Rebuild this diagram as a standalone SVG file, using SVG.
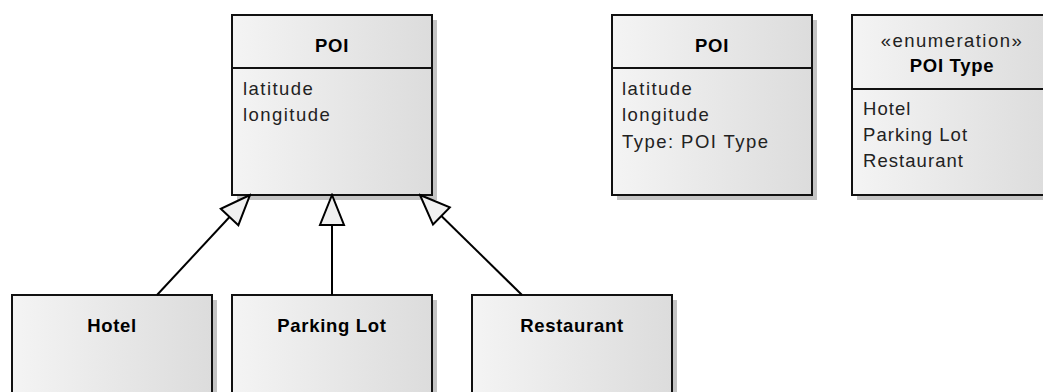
<svg xmlns="http://www.w3.org/2000/svg" width="1043" height="392" viewBox="0 0 1043 392">
  <defs>
    <linearGradient id="fillGrad" x1="0" y1="0" x2="1" y2="0">
      <stop offset="0" stop-color="#f4f4f4"/>
      <stop offset="1" stop-color="#dcdcdc"/>
    </linearGradient>
    <marker id="gen" markerUnits="userSpaceOnUse" markerWidth="34" markerHeight="30" viewBox="-32 -14 34 28" refX="0" refY="0" orient="auto">
      <path d="M0,0 L-30,-12 L-30,12 Z" fill="#f0f0f0" stroke="#000" stroke-width="2" stroke-linejoin="miter"/>
    </marker>
  </defs>
  <style>
    .shadow { fill: #c4c4c4; }
    .box { fill: url(#fillGrad); stroke: #111; stroke-width: 2; }
    .div { stroke: #111; stroke-width: 2; }
    .title { font-family: "Liberation Sans", Arial, sans-serif; font-size: 18.5px; font-weight: bold; fill: #000; text-anchor: middle; letter-spacing: 0.7px; }
    .attr { font-family: "Liberation Sans", Arial, sans-serif; font-size: 18.5px; fill: #222; letter-spacing: 1.45px; }
    .lit { font-family: "Liberation Sans", Arial, sans-serif; font-size: 18.5px; fill: #222; letter-spacing: 1.05px; }
    .stereo { font-family: "Liberation Sans", Arial, sans-serif; font-size: 18.5px; fill: #222; text-anchor: middle; letter-spacing: 1.45px; }
    .conn { stroke: #000; stroke-width: 2; fill: none; marker-end: url(#gen); }
  </style>

  <g id="poi-main">
    <rect class="shadow" x="237" y="20" width="200" height="180"/>
    <rect class="box" x="232" y="15" width="200" height="180"/>
    <line class="div" x1="232" y1="68" x2="432" y2="68"/>
    <text class="title" x="332" y="52">POI</text>
    <text class="attr" x="243" y="95">latitude</text>
    <text class="attr" x="243" y="121">longitude</text>
  </g>

  <g id="poi-typed">
    <rect class="shadow" x="617" y="20" width="200" height="180"/>
    <rect class="box" x="612" y="15" width="200" height="180"/>
    <line class="div" x1="612" y1="68" x2="812" y2="68"/>
    <text class="title" x="712" y="52">POI</text>
    <text class="attr" x="622" y="95">latitude</text>
    <text class="attr" x="622" y="121">longitude</text>
    <text class="attr" x="622" y="148">Type: POI Type</text>
  </g>

  <g id="poi-type-enum">
    <rect class="shadow" x="857" y="20" width="200" height="180"/>
    <rect class="box" x="852" y="15" width="200" height="180"/>
    <line class="div" x1="852" y1="89" x2="1052" y2="89"/>
    <text class="stereo" x="952" y="47">«enumeration»</text>
    <text class="title" x="952" y="72">POI Type</text>
    <text class="lit" x="863" y="115">Hotel</text>
    <text class="lit" x="863" y="141">Parking Lot</text>
    <text class="lit" x="863" y="167">Restaurant</text>
  </g>

  <g id="hotel">
    <rect class="shadow" x="17" y="300" width="200" height="110"/>
    <rect class="box" x="12" y="295" width="200" height="110"/>
    <text class="title" x="112" y="332">Hotel</text>
  </g>

  <g id="parking-lot">
    <rect class="shadow" x="237" y="300" width="200" height="110"/>
    <rect class="box" x="232" y="295" width="200" height="110"/>
    <text class="title" x="332" y="332">Parking Lot</text>
  </g>

  <g id="restaurant">
    <rect class="shadow" x="477" y="300" width="200" height="110"/>
    <rect class="box" x="472" y="295" width="200" height="110"/>
    <text class="title" x="572" y="332">Restaurant</text>
  </g>

  <g id="connectors">
    <line class="conn" x1="157" y1="295" x2="250" y2="195"/>
    <line class="conn" x1="332" y1="295" x2="332" y2="195"/>
    <line class="conn" x1="522" y1="295" x2="420" y2="195"/>
  </g>
</svg>
